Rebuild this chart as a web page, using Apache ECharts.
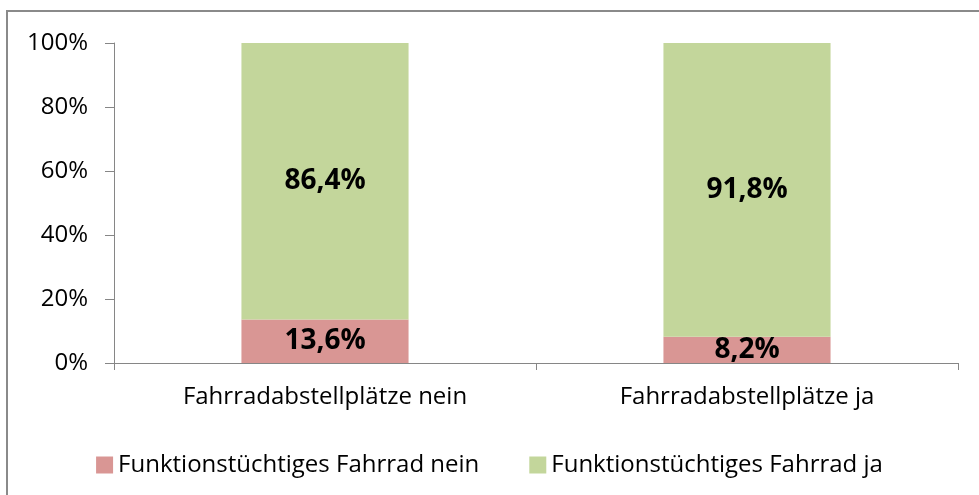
<!DOCTYPE html>
<html>
<head>
<meta charset="utf-8">
<script src="https://cdn.jsdelivr.net/npm/echarts@6/dist/echarts.min.js"></script>
<style>
  html, body { margin: 0; padding: 0; background: #fff; }
  #main { width: 979px; height: 495px; }
</style>
</head>
<body>
<div id="main"></div>
<script>
// Kategorien und Werte (Prozent)
var categories = ['Fahrradabstellplätze nein', 'Fahrradabstellplätze ja'];
var seriesNames = ['Funktionstüchtiges Fahrrad nein', 'Funktionstüchtiges Fahrrad ja'];
var valuesNein = [13.6, 8.2];
var valuesJa = [86.4, 91.8];
var yTicks = [0, 20, 40, 60, 80, 100];

var font = 'Open Sans';

function pct(p) {
  return p.value.toFixed(1).replace('.', ',') + '%';
}

var myChart = echarts.init(document.getElementById('main'));
myChart.setOption({
  backgroundColor: '#ffffff',
  animation: false,
  graphic: [{
    type: 'rect',
    shape: { x: 7, y: 11, width: 1100, height: 1000 },
    style: { fill: 'none', stroke: '#8a8a8a', lineWidth: 2 },
    silent: true
  }],
  grid: {
    left: 114,
    right: 21,
    top: 43,
    bottom: 132
  },
  legend: {
    data: seriesNames,
    top: 448,
    left: 'center',
    itemWidth: 17,
    itemHeight: 17,
    itemGap: 50,
    icon: 'rect',
    textStyle: { fontFamily: font, fontSize: 24, color: '#000' }
  },
  xAxis: {
    type: 'category',
    data: categories,
    axisLine: { lineStyle: { color: '#868686', width: 1 } },
    axisTick: { show: true, length: 7, lineStyle: { color: '#868686' } },
    axisLabel: { fontFamily: font, fontSize: 24, color: '#000', margin: 22 }
  },
  yAxis: {
    type: 'value',
    min: yTicks[0],
    max: yTicks[yTicks.length - 1],
    interval: 20,
    axisLine: { show: true, lineStyle: { color: '#868686', width: 1 } },
    axisTick: { show: true, length: 9, lineStyle: { color: '#868686' } },
    splitLine: { show: false },
    axisLabel: {
      fontFamily: font, fontSize: 24, color: '#000', margin: 26,
      formatter: '{value}%'
    }
  },
  series: [
    {
      name: seriesNames[0],
      type: 'bar',
      stack: 'gesamt',
      data: valuesNein,
      barWidth: '39.6%',
      itemStyle: { color: '#d99694' },
      label: {
        show: true, position: 'inside', formatter: pct,
        fontFamily: font, fontSize: 28, fontWeight: 'bold', color: '#000'
      }
    },
    {
      name: seriesNames[1],
      type: 'bar',
      stack: 'gesamt',
      data: valuesJa,
      barWidth: '39.6%',
      itemStyle: { color: '#c3d69b' },
      label: {
        show: true, position: 'inside', formatter: pct,
        fontFamily: font, fontSize: 28, fontWeight: 'bold', color: '#000'
      }
    }
  ]
});
</script>
</body>
</html>
